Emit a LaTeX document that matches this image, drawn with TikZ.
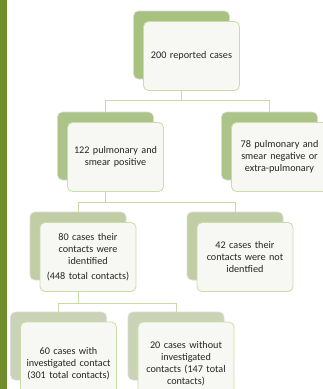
\documentclass[tikz,border=0pt]{standalone}
\usepackage{fontspec}
\setmainfont{Carlito}
\usepackage{xcolor}
\usepackage{tikz}

\definecolor{barcol}{HTML}{6F8E2B}
\definecolor{lvla}{HTML}{A7C17F}
\definecolor{lvlb}{HTML}{ACC488}
\definecolor{lvlc}{HTML}{C1CEA5}
\definecolor{lvld}{HTML}{CAD3B6}
\definecolor{frontfill}{HTML}{F7F8F3}
\definecolor{frontline}{HTML}{CADCA8}
\definecolor{connline}{HTML}{C8DAA5}
\definecolor{txtcol}{HTML}{262626}

\begin{document}
\begin{tikzpicture}[x=1pt,y=-1pt]
\tikzstyle{backbox}=[rounded corners=5pt,minimum width=96pt,minimum height=68pt,draw=black!14,line width=0.6pt]
\tikzstyle{frontbox}=[rounded corners=5pt,minimum width=96pt,minimum height=69pt,fill=frontfill,draw=frontline,line width=0.8pt,inner sep=3pt,text width=90pt,align=center,text=txtcol,font=\fontsize{10.2}{12}\selectfont]
\tikzstyle{conn}=[draw=connline,line width=1pt]
\useasboundingbox (0,0) rectangle (322,389);
\fill[barcol] (0,0) rectangle (7,389);
% back boxes
\foreach \pos/\name/\lvl in {{(181.5,45)/top/lvla},{(105.5,146)/pul/lvlb},{(269.5,146)/neg/lvlb},
  {(78,246)/idf/lvlc},{(235,246)/nid/lvlc},{(58.5,346)/inv/lvld},{(176,346)/wout/lvld}}
  \node[backbox,fill=\lvl] (\name b) at \pos {};
% connectors
\path[conn] (topb.south) -- ++(0,21) coordinate (bus1) -| (pulb.north) (bus1) -| (negb.north);
\path[conn] (pulb.south) -- ++(0,22) coordinate (bus2) -| (idfb.north) (bus2) -| (nidb.north);
\path[conn] (idfb.south) -- ++(0,23) coordinate (bus3) -| (invb.north) (bus3) -| (woutb.north);
% front boxes
\node[frontbox] (top) at ([shift={(10,11)}]topb) {200 reported cases};
\node[frontbox] (pul) at ([shift={(10,11)}]pulb) {122 pulmonary and\\smear positive};
\node[frontbox] (neg) at ([shift={(10,11)}]negb) {78 pulmonary and\\smear negative or\\extra-pulmonary};
\node[frontbox] (idf) at ([shift={(10,11)}]idfb) {80 cases their\\contacts were\\identified\\[3pt](448 total contacts)};
\node[frontbox] (nid) at ([shift={(10,11)}]nidb) {42 cases their\\contacts were not\\identfied};
\node[frontbox,minimum height=84pt] (inv) at ([shift={(10,18)}]invb) {60 cases with\\investigated contact\\(301 total contacts)};
\node[frontbox,minimum height=84pt] (wout) at ([shift={(10,18)}]woutb) {20 cases without\\investigated\\contacts (147 total\\contacts)};
\end{tikzpicture}
\end{document}
